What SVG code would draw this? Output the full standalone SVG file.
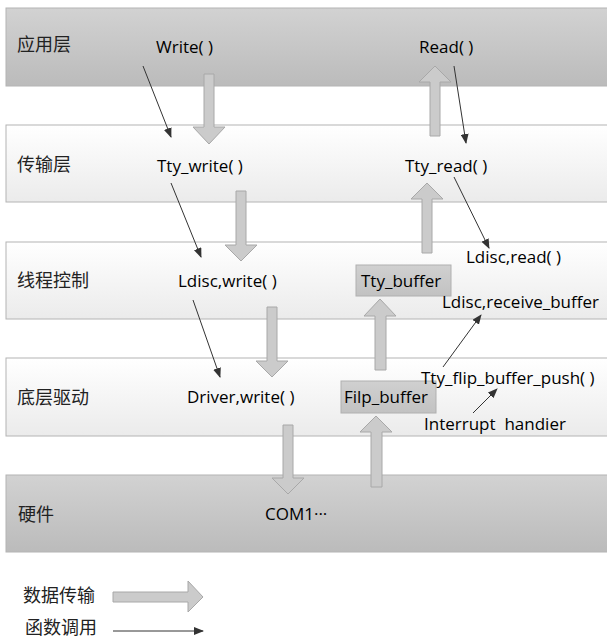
<svg xmlns="http://www.w3.org/2000/svg" width="607" height="640" viewBox="0 0 607 640">
<defs>
  <linearGradient id="gDark" x1="0" y1="0" x2="0" y2="1">
    <stop offset="0" stop-color="#d2d2d2"/>
    <stop offset="1" stop-color="#bbbbbb"/>
  </linearGradient>
  <linearGradient id="gLight" x1="0" y1="0" x2="0" y2="1">
    <stop offset="0" stop-color="#ffffff"/>
    <stop offset="1" stop-color="#ebebeb"/>
  </linearGradient>
  <linearGradient id="gBox" x1="0" y1="0" x2="0" y2="1">
    <stop offset="0" stop-color="#d0d0d0"/>
    <stop offset="1" stop-color="#c2c2c2"/>
  </linearGradient>
  <marker id="ah" markerWidth="10" markerHeight="8" refX="9" refY="4" orient="auto" markerUnits="userSpaceOnUse">
    <path d="M0,0 L10,4 L0,8 Z" fill="#333"/>
  </marker>
</defs>
<style>
  .band { stroke: #b4b4b4; stroke-width: 1; }
  .dark { fill: url(#gDark); }
  .light { fill: url(#gLight); }
  .cn { font-family: "Noto Sans CJK SC", "Noto Sans", sans-serif; font-size: 18px; fill: #222; }
  .t { font-family: "Open Sans", "Liberation Sans", sans-serif; font-size: 17px; fill: #000; white-space: pre; }
  .box { fill: url(#gBox); stroke: #b0b0b0; stroke-width: 1; }
  .blk { fill: #cbcbcb; stroke: #a8a8a8; stroke-width: 1; }
  .call { stroke: #333; stroke-width: 1; fill: none; marker-end: url(#ah); }
</style>

<g id="layer-app">
  <rect class="band dark" x="6" y="8" width="620" height="78"/>
  <text class="cn" x="17" y="51">应用层</text>
</g>
<g id="layer-transport">
  <rect class="band light" x="6" y="125" width="620" height="77"/>
  <text class="cn" x="17" y="171">传输层</text>
</g>
<g id="layer-thread">
  <rect class="band light" x="6" y="242" width="620" height="77"/>
  <text class="cn" x="17" y="287">线程控制</text>
</g>
<g id="layer-driver">
  <rect class="band light" x="6" y="358" width="620" height="78"/>
  <text class="cn" x="17" y="404">底层驱动</text>
</g>
<g id="layer-hw">
  <rect class="band dark" x="6" y="475" width="620" height="77"/>
  <text class="cn" x="18" y="521">硬件</text>
</g>

<g id="n-write"><text class="t" x="156" y="53">Write( )</text></g>
<g id="n-read"><text class="t" x="419" y="53">Read( )</text></g>
<g id="n-tty-write"><text class="t" x="157" y="172">Tty_write( )</text></g>
<g id="n-tty-read"><text class="t" x="405" y="172">Tty_read( )</text></g>
<g id="n-ldisc-write"><text class="t" x="178" y="287">Ldisc,write( )</text></g>
<g id="n-tty-buffer">
  <rect class="box" x="356" y="265" width="95" height="31"/>
  <text class="t" x="361" y="287">Tty_buffer</text>
</g>
<g id="n-ldisc-read"><text class="t" x="466" y="263">Ldisc,read( )</text></g>
<g id="n-ldisc-recv"><text class="t" x="442" y="308">Ldisc,receive_buffer</text></g>
<g id="n-driver-write"><text class="t" x="187" y="403">Driver,write( )</text></g>
<g id="n-filp-buffer">
  <rect class="box" x="341" y="381" width="95" height="32"/>
  <text class="t" x="344" y="403">Filp_buffer</text>
</g>
<g id="n-flip-push"><text class="t" x="421" y="384">Tty_flip_buffer_push( )</text></g>
<g id="n-interrupt"><text class="t" x="424" y="430" xml:space="preserve">Interrupt  handier</text></g>
<g id="n-com1"><text class="t" x="265" y="520">COM1···</text></g>

<g id="connectors">
  <path class="blk" d="M204,74 H214 V127 H225 L209,144 L193,127 H204 Z"/>
  <path class="blk" d="M236,191 H246 V245 H257 L241,261 L225,245 H236 Z"/>
  <path class="blk" d="M267,307 H277 V361 H288 L272,377 L256,361 H267 Z"/>
  <path class="blk" d="M283,425 H293 V478 H304 L288,494 L272,478 H283 Z"/>
  <path class="blk" d="M430,136 H440 V82 H451 L435,66 L419,82 H430 Z"/>
  <path class="blk" d="M422,253 H432 V199 H443 L427,183 L411,199 H422 Z"/>
  <path class="blk" d="M375,370 H386 V316 H396 L380,299 L364,316 H375 Z"/>
  <path class="blk" d="M371,487 H382 V432 H392 L376,416 L360,432 H371 Z"/>
  <line class="call" x1="143" y1="66" x2="171" y2="137"/>
  <line class="call" x1="171" y1="183" x2="201" y2="257"/>
  <line class="call" x1="193" y1="300" x2="220" y2="377"/>
  <line class="call" x1="454" y1="66" x2="466" y2="143"/>
  <line class="call" x1="454" y1="177" x2="489" y2="248"/>
  <line class="call" x1="443" y1="367" x2="481" y2="315"/>
  <line class="call" x1="473" y1="413" x2="497" y2="389"/>
</g>

<g id="legend">
  <text class="cn" x="23" y="602">数据传输</text>
  <path class="blk" d="M113,592 H188 V581 L203,597 L188,612 V602 H113 Z"/>
  <text class="cn" x="25" y="634">函数调用</text>
  <line class="call" x1="113" y1="631" x2="203" y2="631"/>
</g>
</svg>
